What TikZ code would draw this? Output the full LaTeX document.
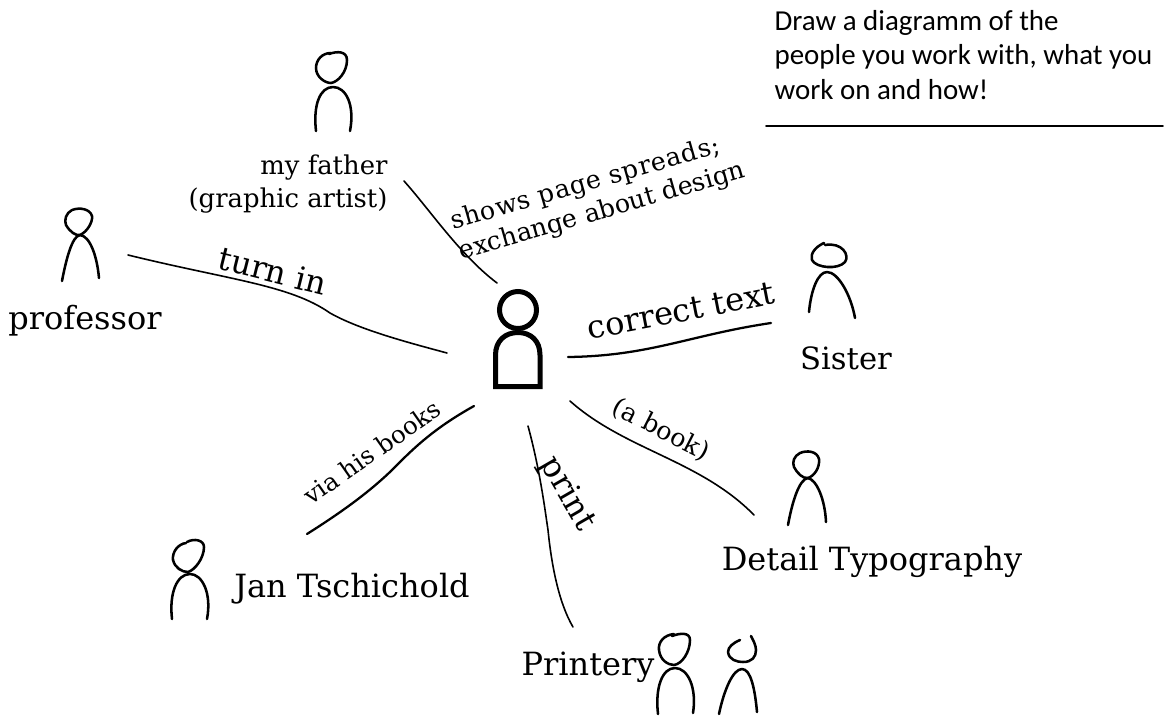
\documentclass[tikz,border=0pt]{standalone}
\usepackage{fontspec}
\setmainfont{DejaVu Serif}
\newfontfamily\notefont{Carlito}
\newfontfamily\widefont[LetterSpace=3]{DejaVu Serif}
\tikzset{every picture/.style={line width=0.75pt}}
\tikzset{
  sketch/.style={line width=1.9pt,line cap=round,line join=round},
  link/.style={line width=1.2pt,line cap=round},
  heavylink/.style={line width=1.7pt,line cap=round},
  biglabel/.style={font=\fontsize{24}{28}\selectfont,inner sep=0pt},
  midlabel/.style={font=\fontsize{19.4}{24.5}\selectfont,inner sep=0pt,align=right},
  smalllabel/.style={font=\fontsize{19}{23}\selectfont,inner sep=0pt,align=left},
  notelabel/.style={font=\notefont\fontsize{21.7}{26}\selectfont,inner sep=0pt,align=left}
}
\begin{document}
\begin{tikzpicture}[x=0.75pt,y=0.75pt,yscale=-1,xscale=1]
\useasboundingbox (0,0) rectangle (1168,715);

%Shape: main person
\draw [line width=3.75pt] (518,310) circle [radius=18.5];
\draw [line width=3.75pt] (495.5,386.5) -- (495.5,355) .. controls (495.5,341) and (505,332.5) .. (518,332.5) .. controls (531,332.5) and (540,341) .. (540,355) -- (540,386.5) -- cycle;

%Shape: my father
\draw [sketch] (331,53) .. controls (322,53) and (316,60) .. (316,68) .. controls (316,77) and (325,83) .. (331,83) .. controls (338,82) and (347,72) .. (347,60) .. controls (347,51) and (337,51) .. (329,54);
\draw [sketch] (316,131) .. controls (313,105) and (320,87) .. (333,87) .. controls (346,87) and (355,105) .. (350,131);
%Shape: professor
\draw [sketch] (72,210) .. controls (66,213) and (64,220) .. (66,225) .. controls (70,232) and (76,236) .. (80,235) .. controls (87,232) and (93,222) .. (92,216) .. controls (90,209) and (80,207) .. (72,210);
\draw [sketch] (62,281) .. controls (66,260) and (72,236) .. (80,235) .. controls (90,236) and (97,256) .. (99,278);
%Shape: sister
\draw [sketch] (824,243) .. controls (815,247) and (810,254) .. (812,260) .. controls (816,268) and (838,270) .. (845,262) .. controls (850,255) and (842,242) .. (825,245);
\draw [sketch] (809,312) .. controls (811,290) and (818,272) .. (827,272) .. controls (838,272) and (851,295) .. (855,318);
%Shape: detail typography
\draw [sketch] (800,453) .. controls (794,456) and (792,462) .. (794,467) .. controls (797,473) and (803,479) .. (808,478) .. controls (814,476) and (820,468) .. (819,459) .. controls (817,451) and (807,450) .. (800,453);
\draw [sketch] (788,525) .. controls (792,503) and (799,479) .. (808,478) .. controls (817,480) and (825,500) .. (826,522);
%Shape: jan tschichold
\draw [sketch] (186,543) .. controls (178,544) and (172,552) .. (173,560) .. controls (175,568) and (182,572) .. (188,572) .. controls (195,570) and (204,558) .. (204,547) .. controls (204,540) and (194,538) .. (187,542);
\draw [sketch] (172,619) .. controls (169,593) and (177,574) .. (190,574) .. controls (202,574) and (212,593) .. (207,619);
%Shape: printery
\draw [sketch] (674,634) .. controls (664,635) and (658,642) .. (659,650) .. controls (660,660) and (668,665) .. (674,665) .. controls (682,664) and (690,652) .. (690,640) .. controls (690,632) and (680,633) .. (672,636);
\draw [sketch] (658,714) .. controls (655,688) and (662,668) .. (675,668) .. controls (688,668) and (697,688) .. (693,713);
\draw [sketch] (740,640) .. controls (733,643) and (728,647) .. (728,652) .. controls (729,660) and (737,662) .. (743,662) .. controls (752,662) and (756,657) .. (756,650) .. controls (756,645) and (753,640) .. (751,636);
\draw [sketch] (719,714) .. controls (724,690) and (733,669) .. (742,669) .. controls (751,669) and (755,690) .. (757,712);

%Curve Lines
\coordinate (fatherend) at (404,181);
\coordinate (meA) at (497,283);
\coordinate (professorend) at (128,255);
\coordinate (meB) at (447,353);
\coordinate (meC) at (568,357);
\coordinate (sisterend) at (771,323);
\coordinate (meD) at (570,401);
\coordinate (detailend) at (754,515);
\coordinate (meE) at (528,426);
\coordinate (printeryend) at (573,627);
\coordinate (meF) at (474,406);
\coordinate (janend) at (307,534);
\draw [link] (fatherend) .. controls (430,210) and (460,255) .. (meA);
\draw [link] (professorend) .. controls (230,280) and (290,285) .. (330,313) .. controls (360,330) and (410,343) .. (meB);
\draw [heavylink] (meC) .. controls (650,356) and (690,335) .. (sisterend);
\draw [link] (meD) .. controls (625,450) and (700,460) .. (detailend);
\draw [link] (meE) .. controls (540,470) and (545,510) .. (548,530) .. controls (552,570) and (560,605) .. (printeryend);
\draw [heavylink] (meF) .. controls (440,425) and (420,442) .. (400,462) .. controls (375,488) and (345,510) .. (janend);
\coordinate (ruleleft) at (766,126);
\coordinate (ruleright) at (1163,126);
\draw [link] (ruleleft) -- (ruleright);

% Text Node
\node [biglabel] (professor) at (85,321) {professor};
\node [midlabel,anchor=east] (father) at (388,184) {my father\\(graphic artist)};
\node [biglabel,font=\fontsize{23}{27}\selectfont] (sister) at (846,358) {Sister};
\node [biglabel] (detail) at (872,562) {Detail Typography};
\node [biglabel] (jan) at (352,589) {Jan Tschichold};
\node [biglabel] (printery) at (588,667) {Printery};
\node [notelabel] (note) at (963.5,55) {Draw a diagramm of the\\people you work with, what you\\work on and how!};
\node [biglabel,rotate=-14] (turnin) at (273,271) {turn in};
\node [smalllabel,rotate=16] (spreads) at (598,197) {{\widefont shows page spreads;}\\exchange about design};
\node [biglabel,rotate=11] (correct) at (681,311) {correct text};
\node [smalllabel,rotate=-27] (book) at (661,430) {(a book)};
\node [biglabel,rotate=-60] (print) at (567,494) {print};
\node [smalllabel,font=\fontsize{18.4}{22}\selectfont,rotate=35] (books) at (372,452) {via his books};

\end{tikzpicture}
\end{document}
